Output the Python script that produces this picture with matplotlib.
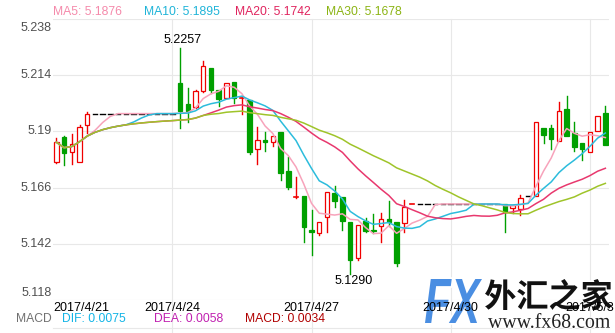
import matplotlib

matplotlib.use("Agg")
import matplotlib.pyplot as plt
import pandas as pd
from matplotlib.font_manager import FontProperties
from matplotlib.lines import Line2D
from matplotlib.patches import FancyBboxPatch, PathPatch, Rectangle
from matplotlib.textpath import TextPath
from matplotlib.transforms import Affine2D

plt.rcParams["font.family"] = ["Liberation Sans", "DejaVu Sans"]

# bar position: 0 = 2017/4/21 00:00, one bar = 4 hours (flat bars = no trading)
bars = list(range(3, 75))
opens = [5.1771, 5.1874, 5.1810, 5.1771, 5.1928] + [5.1976] * 11 + [
    5.2106, 5.2017, 5.2006, 5.2073, 5.2171, 5.2077, 5.2044, 5.2110, 5.2038, 5.2036,
    5.1824, 5.1864, 5.1855, 5.1896, 5.1732, 5.1618, 5.1625, 5.1480, 5.1466, 5.1534,
    5.1637, 5.1618, 5.1511, 5.1360, 5.1516, 5.1480, 5.1497, 5.1526, 5.1513, 5.1509,
    5.1586] + [5.1590] * 11 + [
    5.1591, 5.1573, 5.1568, 5.1625, 5.1625, 5.1914, 5.1914, 5.1861, 5.1995, 5.1892,
    5.1850, 5.1811, 5.1903, 5.1978]
highs = [5.1872, 5.1881, 5.1888, 5.1928, 5.1984] + [5.1976] * 11 + [
    5.2257, 5.2084, 5.2077, 5.2202, 5.2171, 5.2077, 5.2108, 5.2110, 5.2045, 5.2036,
    5.1918, 5.1899, 5.1881, 5.1896, 5.1790, 5.1707, 5.1625, 5.1563, 5.1513, 5.1641,
    5.1665, 5.1618, 5.1511, 5.1502, 5.1530, 5.1547, 5.1551, 5.1601, 5.1513, 5.1605,
    5.1590] + [5.1590] * 11 + [
    5.1591, 5.1587, 5.1629, 5.1625, 5.1939, 5.1914, 5.1928, 5.2024, 5.2051, 5.1939,
    5.1850, 5.1899, 5.1967, 5.2009]
lows = [5.1766, 5.1757, 5.1762, 5.1771, 5.1895] + [5.1976] * 11 + [
    5.1916, 5.1942, 5.2000, 5.2070, 5.2063, 5.2010, 5.2044, 5.2023, 5.1974, 5.1804,
    5.1760, 5.1817, 5.1838, 5.1693, 5.1655, 5.1615, 5.1428, 5.1374, 5.1456, 5.1471,
    5.1577, 5.1477, 5.1290, 5.1350, 5.1469, 5.1466, 5.1426, 5.1494, 5.1327, 5.1471,
    5.1586] + [5.1590] * 11 + [
    5.1469, 5.1551, 5.1544, 5.1625, 5.1625, 5.1852, 5.1825, 5.1861, 5.1881, 5.1818,
    5.1779, 5.1811, 5.1903, 5.1842]
closes = [5.1854, 5.1807, 5.1845, 5.1918, 5.1976] + [5.1976] * 11 + [
    5.1987, 5.1987, 5.2073, 5.2179, 5.2077, 5.2040, 5.2105, 5.2041, 5.2042, 5.1814,
    5.1864, 5.1854, 5.1881, 5.1724, 5.1661, 5.1620, 5.1490, 5.1469, 5.1513, 5.1641,
    5.1601, 5.1516, 5.1350, 5.1502, 5.1476, 5.1473, 5.1526, 5.1511, 5.1338, 5.1577,
    5.1590] + [5.1590] * 11 + [
    5.1554, 5.1587, 5.1615, 5.1625, 5.1939, 5.1885, 5.1868, 5.1989, 5.1881, 5.1835,
    5.1825, 5.1899, 5.1967, 5.1842]

date_ticks = [0, 18, 36, 54, 72]
date_labels = ["2017/4/21", "2017/4/24", "2017/4/27", "2017/4/30", "2017/5/3"]
price_ticks = [5.118, 5.142, 5.166, 5.19, 5.214, 5.238]
price_labels = ["5.118", "5.142", "5.166", "5.19", "5.214", "5.238"]

ma_periods = [5, 10, 20, 30]
ma_colors = ["#f7a3bb", "#2cbcdc", "#e8386e", "#9fc42a"]
ma_texts = ["MA5: 5.1876", "MA10: 5.1895", "MA20: 5.1742", "MA30: 5.1678"]
ma_text_colors = ["#f58aab", "#1fb4d8", "#e0245e", "#8cb414"]
macd_texts = ["DIF: 0.0075", "DEA: 0.0058", "MACD: 0.0034"]
macd_colors = ["#12b4e6", "#c020b0", "#b00000"]

W, H = 615, 333
UP, DOWN, FLAT = "#f00000", "#00a000", "#000000"
GRID = "#e8e8e8"

fig = plt.figure(figsize=(W / 100, H / 100), dpi=100)
ax = fig.add_axes([53 / W, 33 / H, 556 / W, 281 / H])
ax.set_xlim(2.57, 74.47)
ax.set_ylim(5.118, 5.238)
ax.set_xticks([])
ax.set_yticks([])
for spine in ax.spines.values():
    spine.set_visible(False)

for p in price_ticks:
    ax.axhline(p, color=GRID, lw=0.8, zorder=0)
for t in date_ticks:
    if t > 2.57:
        ax.axvline(t, ymin=-33 / 281, ymax=1, color=GRID, lw=0.8, clip_on=False, zorder=0)
fig.add_artist(Line2D([53 / W, 609 / W], [1 - 328 / H] * 2, color=GRID, lw=0.8))

# faint blot near the top
fig.add_artist(FancyBboxPatch((472 / W, 1 - 55 / H), 82 / W, 20 / H,
                              boxstyle="round,pad=0,rounding_size=0.02",
                              fc="#f4f4f4", ec="none", zorder=0))

# candles
body_w = 0.58
for x, o, h, l, c in zip(bars, opens, highs, lows, closes):
    if o == h == l == c:
        ax.plot([x - body_w / 2, x + body_w / 2], [c, c], color=FLAT, lw=1.0, zorder=2)
        continue
    color = UP if c >= o else DOWN
    lo, hi = min(o, c), max(o, c)
    ax.plot([x, x], [l, lo], color=color, lw=1.0, zorder=2)
    ax.plot([x, x], [hi, h], color=color, lw=1.0, zorder=2)
    if hi - lo < 0.0004:
        ax.plot([x - body_w / 2, x + body_w / 2], [c, c], color=color, lw=1.2, zorder=2)
        continue
    ax.add_patch(Rectangle((x - body_w / 2, lo), body_w, hi - lo,
                           fc="white" if color == UP else DOWN, ec=color, lw=0.9, zorder=2))

# moving averages of the closes
close_series = pd.Series(closes, index=bars)
for period, color in zip(ma_periods, ma_colors):
    ma = close_series.rolling(period, min_periods=1).mean()
    ax.plot(ma.index, ma.values, color=color, lw=1.1, zorder=3)

# extreme labels
ax.annotate("5.2257", (19, 5.2257), xytext=(3, 2), textcoords="offset pixels",
            ha="center", va="bottom", fontsize=9, color="#000000")
ax.annotate("5.1290", (41, 5.1290), xytext=(3, -1), textcoords="offset pixels",
            ha="center", va="top", fontsize=9, color="#000000")

# price labels
ytr = ax.get_yaxis_transform()
for p, lab in zip(price_ticks, price_labels):
    va, dy = "center", 0
    if p == price_ticks[-1]:
        va, dy = "top", -3
    elif p == price_ticks[0]:
        va, dy = "bottom", 1
    ax.annotate(lab, (0, p), xycoords=ytr, xytext=(-1, dy), textcoords="offset pixels",
                ha="right", va=va, fontsize=9, color="#505050")

# date labels
for t, lab in zip(date_ticks, date_labels):
    if t < 2.57:
        fig.text(53 / W, 1 - 308 / H, lab, ha="left", va="center", fontsize=9, zorder=5)
    else:
        xf = (ax.transData.transform((t, 5.2))[0]) / fig.bbox.width
        fig.text(xf, 1 - 308 / H, lab, ha="center", va="center", fontsize=9, zorder=5)

# legends
for i, (txt, col) in enumerate(zip(ma_texts, ma_text_colors)):
    fig.text((53 + 91 * i) / W, 1 - 12 / H, txt, color=col, ha="left", va="center", fontsize=8.7)
fig.text(52 / W, 1 - 319 / H, "MACD", color="#707070", ha="right", va="center", fontsize=8.7)
for i, (txt, col) in enumerate(zip(macd_texts, macd_colors)):
    fig.text((62 + 91.5 * i) / W, 1 - 319 / H, txt, color=col, ha="left", va="center", fontsize=8.7)


def fit_text(text, prop, box, color, outline=2.5, zorder=4):
    path = TextPath((0, 0), text, size=1, prop=prop)
    ext = path.get_extents()
    x0, y0, x1, y1 = box
    sx = (x1 - x0) / ext.width
    sy = (y1 - y0) / ext.height
    tr = (Affine2D().translate(-ext.x0, -ext.y0).scale(sx, sy)
          .translate(x0, H - y1).scale(1 / W, 1 / H) + fig.transFigure)
    fig.add_artist(PathPatch(path, transform=tr, fc="white", ec="white", lw=outline, zorder=zorder))
    fig.add_artist(PathPatch(path, transform=tr, fc=color, ec="none", zorder=zorder))


fit_text("FX", FontProperties(family="Liberation Sans", weight="bold", style="italic"),
         (425, 279, 482, 323), "#4a8ee2")
fit_text("外汇之家", FontProperties(family="Noto Sans CJK SC", weight="bold"),
         (485, 279, 612, 310), "#111111")
fit_text("www.fx68.com", FontProperties(family="Liberation Serif"),
         (488, 313, 610, 328), "#222222", outline=1.5)

fig.savefig("out.png", dpi=100)
